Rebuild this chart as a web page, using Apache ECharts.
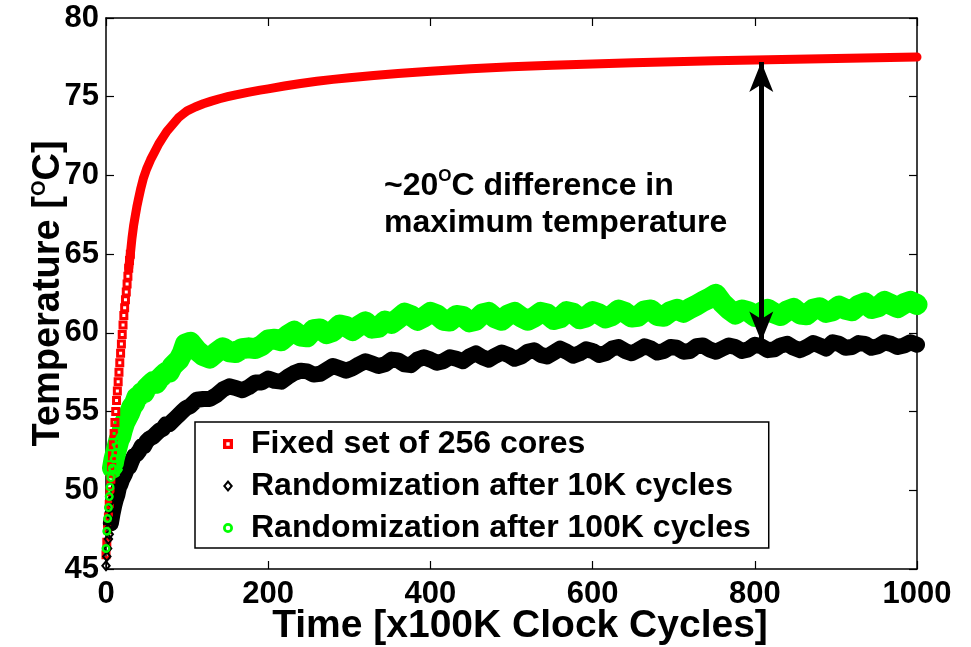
<!DOCTYPE html>
<html>
<head>
<meta charset="utf-8">
<title>Temperature vs time</title>
<script src="https://cdn.jsdelivr.net/npm/echarts@6/dist/echarts.min.js"></script>
<style>
html, body { margin: 0; padding: 0; background: #fff; }
#chart { width: 971px; height: 647px; }
</style>
</head>
<body>
<div id="chart"></div>
<script>
const FONT = '"Liberation Sans", Arial, sans-serif';
const RED = '#ff0000';
const GREEN = '#00ff00';

const seriesNames = ['Fixed set of 256 cores', 'Randomization after 10K cycles', 'Randomization after 100K cycles'];

// fixed set: first samples one by one, rest of the curve
const redEarlyX = [0,1,2,3,4,5,6,7,8,9,10,11,12,13,14,15,16,17,18,19,20,21,22,23,24,25,26,27,28,29,30];
const redEarlyY = [45.9,46.7,47.5,48.3,49.1,49.9,50.7,51.5,52.2,52.9,53.6,54.3,55.0,55.7,56.3,56.9,
    57.5,58.1,58.7,59.3,59.9,60.5,61.1,61.6,62.1,62.6,63.1,63.6,64.1,64.6,65.0];
const redX = [28,30,32,34,36,38,40,43,46,50,55,60,65,70,75,80,85,90,95,100,110,120,130,140,150,160,175,190,
    200,220,240,260,280,300,330,360,400,450,500,550,600,650,700,750,800,850,900,950,1000];
const redY = [64.1,65.0,66.0,66.8,67.4,68.0,68.5,69.2,69.8,70.4,71.0,71.5,72.0,72.4,72.8,73.1,73.4,73.7,73.9,74.1,
    74.35,74.55,74.72,74.87,75.0,75.12,75.28,75.42,75.5,75.68,75.84,75.98,76.1,76.2,76.35,76.47,76.62,76.77,76.9,77.0,
    77.08,77.15,77.22,77.28,77.33,77.38,77.43,77.48,77.52];

// time samples shared by the two randomization runs
const tRand = [0,1,2,3,4,5,6,8,10,12,14,16,18,20,23,26,29,32,35,38,41,44,47,50,54,58,62,66,70,74,78,82,86,90,94,98,
    104,112,120,128,136,144,152,160,168,176,
    184,192,200,208,216,224,232,240,248,256,
    264,272,280,288,296,304,312,320,328,336,
    344,352,360,368,376,384,392,400,408,416,
    424,432,440,448,456,464,472,480,488,496,
    504,512,520,528,536,544,552,560,568,576,
    584,592,600,608,616,624,632,640,648,656,
    664,672,680,688,696,704,712,720,728,736,
    744,752,760,768,776,784,792,800,808,816,
    824,832,840,848,856,864,872,880,888,896,
    904,912,920,928,936,944,952,960,968,976,
    984,992,1000];
const blackY = [45.2,45.8,46.3,46.9,47.2,47.7,47.9,48.5,49.0,49.4,49.7,50.2,50.4,50.7,51.0,51.4,51.5,51.9,52.2,52.3,
    52.5,52.8,52.8,53.1,53.3,53.4,53.6,53.8,53.9,54.2,54.2,54.4,54.6,54.8,55.0,55.2,
    55.35,55.75,55.8,55.8,56.05,56.4,56.6,56.5,56.35,56.55,
    56.85,56.85,57.1,56.95,56.9,57.2,57.45,57.6,57.55,57.35,
    57.4,57.65,57.9,57.75,57.6,57.75,58.0,58.2,58.05,57.9,
    58.0,58.3,58.25,58.0,57.95,58.3,58.45,58.3,58.1,58.2,
    58.45,58.35,58.2,58.5,58.7,58.45,58.3,58.55,58.75,58.6,
    58.35,58.5,58.8,58.9,58.6,58.5,58.75,59.0,58.8,58.55,
    58.7,58.95,58.85,58.6,58.7,59.0,59.1,58.85,58.7,58.9,
    59.15,59.0,58.75,58.85,59.1,59.05,58.8,58.85,59.15,59.2,
    58.95,58.8,59.0,59.2,59.1,58.85,58.95,59.25,59.15,58.9,
    58.95,59.2,59.3,59.05,58.9,59.1,59.35,59.2,59.0,59.4,
    59.3,59.05,59.1,59.35,59.3,59.05,59.15,59.4,59.3,59.1,
    59.2,59.4,59.25];
const greenY = [46.3,47.4,48.2,48.9,49.6,50.2,50.8,51.4,52.0,52.4,52.8,53.2,53.4,53.8,54.3,54.6,54.9,55.3,55.5,55.9,
    56.0,56.2,56.2,56.5,56.7,56.9,56.8,57.1,57.3,57.5,57.5,57.9,58.1,58.3,58.7,59.3,
    59.4,58.9,58.55,58.4,58.75,59.05,58.8,58.75,59.0,59.05,
    59.0,59.2,59.55,59.6,59.5,59.85,60.1,59.8,59.75,60.2,
    60.25,59.95,60.1,60.5,60.4,60.15,60.45,60.7,60.3,60.35,
    60.75,60.6,60.9,61.25,61.1,60.8,61.0,61.3,61.15,60.8,
    60.75,61.1,61.05,60.7,60.8,61.2,61.3,60.95,60.8,61.15,
    61.3,61.0,60.8,61.0,61.3,61.2,60.85,60.95,61.35,61.25,
    60.9,61.0,61.35,61.2,60.95,61.1,61.45,61.3,61.0,61.05,
    61.4,61.45,61.1,61.05,61.35,61.5,61.3,61.55,61.75,62.0,
    62.2,62.45,61.9,61.5,61.2,61.45,61.35,61.05,61.3,61.5,
    61.25,61.1,61.4,61.55,61.2,61.15,61.5,61.6,61.3,61.4,
    61.7,61.5,61.4,61.75,61.9,61.55,61.65,62.0,61.8,61.6,
    61.85,62.0,61.8];

// double arrow annotation (x, top end, bottom end)
const arrowX = [808];
const arrowY = [77.2, 59.45];

const xTicks = { min: 0, max: 1000, interval: 200 };
const yTicks = { min: 45, max: 80, interval: 5 };

const ringSquare = 'path://M0,0H9V9H0Z M3,3V6H6V3Z';
const ringDiamond = 'path://M5,0L10,6L5,12L0,6Z M5,3.2L2.6,6L5,8.8L7.4,6Z';
const ringCircle = 'path://M5,0A5,5 0 1 1 5,10A5,5 0 1 1 5,0Z M5,2.7A2.3,2.3 0 1 0 5,7.3A2.3,2.3 0 1 0 5,2.7Z';

function pts(xs, ys) {
    return xs.map((x, i) => [x, ys[i]]);
}

const boldText = { color: '#000', fontWeight: 'bold', fontFamily: FONT };

function axisBase(extra) {
    return Object.assign({
        type: 'value',
        axisLine: { show: true, onZero: false, lineStyle: { color: '#000', width: 1.5 } },
        axisTick: { show: true, inside: true, length: 8, lineStyle: { color: '#000', width: 1.2 } },
        splitLine: { show: false }
    }, extra);
}

let myChart = echarts.init(document.getElementById('chart'));
let option = {
    animation: false,
    grid: { left: 106, right: 54, top: 18, bottom: 78, containLabel: false, outerBoundsMode: 'none' },
    xAxis: [
        axisBase(Object.assign({
            position: 'bottom',
            axisLabel: Object.assign({ fontSize: 31, margin: 10, formatter: v => String(v) }, boldText),
            name: 'Time [x100K Clock Cycles]',
            nameLocation: 'middle',
            nameGap: 37,
            nameMoveOverlap: false,
            nameTextStyle: Object.assign({ fontSize: 39, lineHeight: 40, padding: [0, 0, 0, 17] }, boldText)
        }, xTicks)),
        axisBase(Object.assign({ position: 'top', axisLabel: { show: false } }, xTicks))
    ],
    yAxis: [
        axisBase(Object.assign({
            position: 'left',
            axisLabel: Object.assign({ fontSize: 31, margin: 7 }, boldText),
            name: 'Temperature [{s|O}C]',
            nameLocation: 'middle',
            nameGap: 37,
            nameMoveOverlap: false,
            nameTextStyle: Object.assign({
                fontSize: 38, lineHeight: 40,
                rich: { s: Object.assign({ fontSize: 20, lineHeight: 8, verticalAlign: 'top' }, boldText) }
            }, boldText)
        }, yTicks)),
        axisBase(Object.assign({ position: 'right', axisLabel: { show: false } }, yTicks))
    ],
    legend: {
        data: [
            { name: seriesNames[0], icon: ringSquare },
            { name: seriesNames[1], icon: ringDiamond },
            { name: seriesNames[2], icon: ringCircle }
        ],
        orient: 'vertical',
        left: 195,
        top: 422,
        itemWidth: 10,
        itemHeight: 12,
        itemGap: 6,
        padding: [4, 18, 2, 28],
        backgroundColor: '#fff',
        borderColor: '#000',
        borderWidth: 1.5,
        borderRadius: 0,
        selectedMode: false,
        itemStyle: { borderWidth: 0, opacity: 1 },
        textStyle: Object.assign({ fontSize: 32, lineHeight: 36, padding: [0, 0, 0, 13] }, boldText)
    },
    graphic: [{
        type: 'text',
        left: 384,
        top: 168,
        silent: true,
        style: {
            text: '{b|~20}{s|O}{b|C difference in}\n{b|maximum temperature}',
            fill: '#000',
            rich: {
                b: { fontSize: 32, fontWeight: 'bold', fontFamily: FONT, lineHeight: 37, fill: '#000' },
                s: { fontSize: 17, fontWeight: 'bold', fontFamily: FONT, lineHeight: 8, verticalAlign: 'top', fill: '#000' }
            }
        }
    }],
    series: [
        {
            name: seriesNames[0], type: 'line', clip: false, silent: true,
            data: pts(redX, redY),
            showSymbol: false,
            itemStyle: { color: RED, borderWidth: 0 },
            lineStyle: { color: RED, width: 9, join: 'round', cap: 'round' }
        },
        {
            name: seriesNames[0], type: 'line', clip: false, silent: true,
            data: pts(redEarlyX, redEarlyY),
            symbol: ringSquare, symbolSize: 9, showAllSymbol: true,
            itemStyle: { color: RED, borderWidth: 0 },
            lineStyle: { opacity: 0 }
        },
        {
            name: seriesNames[1], type: 'line', clip: false, silent: true,
            data: pts(tRand.slice(6), blackY.slice(6)),
            symbol: ringDiamond, symbolSize: [10, 12], showAllSymbol: true,
            itemStyle: { color: '#000', borderWidth: 0 },
            lineStyle: { color: '#000', width: 16, join: 'round', cap: 'round' }
        },
        {
            name: seriesNames[1], type: 'line', clip: false, silent: true,
            data: pts(tRand.slice(0, 7), blackY.slice(0, 7)),
            symbol: ringDiamond, symbolSize: [10, 12], showAllSymbol: true,
            itemStyle: { color: '#000', borderWidth: 0 },
            lineStyle: { opacity: 0 }
        },
        {
            name: seriesNames[2], type: 'line', clip: false, silent: true,
            data: pts(tRand.slice(7), greenY.slice(7)),
            symbol: ringCircle, symbolSize: 9, showAllSymbol: true,
            itemStyle: { color: GREEN, borderWidth: 0 },
            lineStyle: { color: GREEN, width: 21, join: 'round', cap: 'round' },
            markLine: {
                silent: true,
                symbol: ['arrow', 'arrow'],
                symbolSize: [18, 30],
                label: { show: false },
                lineStyle: { color: '#000', width: 5, type: 'solid' },
                data: [[{ coord: [arrowX[0], arrowY[0]] }, { coord: [arrowX[0], arrowY[1]] }]]
            }
        },
        {
            name: seriesNames[2], type: 'line', clip: false, silent: true,
            data: pts(tRand.slice(0, 8), greenY.slice(0, 8)),
            symbol: ringCircle, symbolSize: 9, showAllSymbol: true,
            itemStyle: { color: GREEN, borderWidth: 0 },
            lineStyle: { opacity: 0 }
        }
    ]
};
myChart.setOption(option);
window.addEventListener('resize', function () {
    myChart.resize();
});
</script>
</body>
</html>
